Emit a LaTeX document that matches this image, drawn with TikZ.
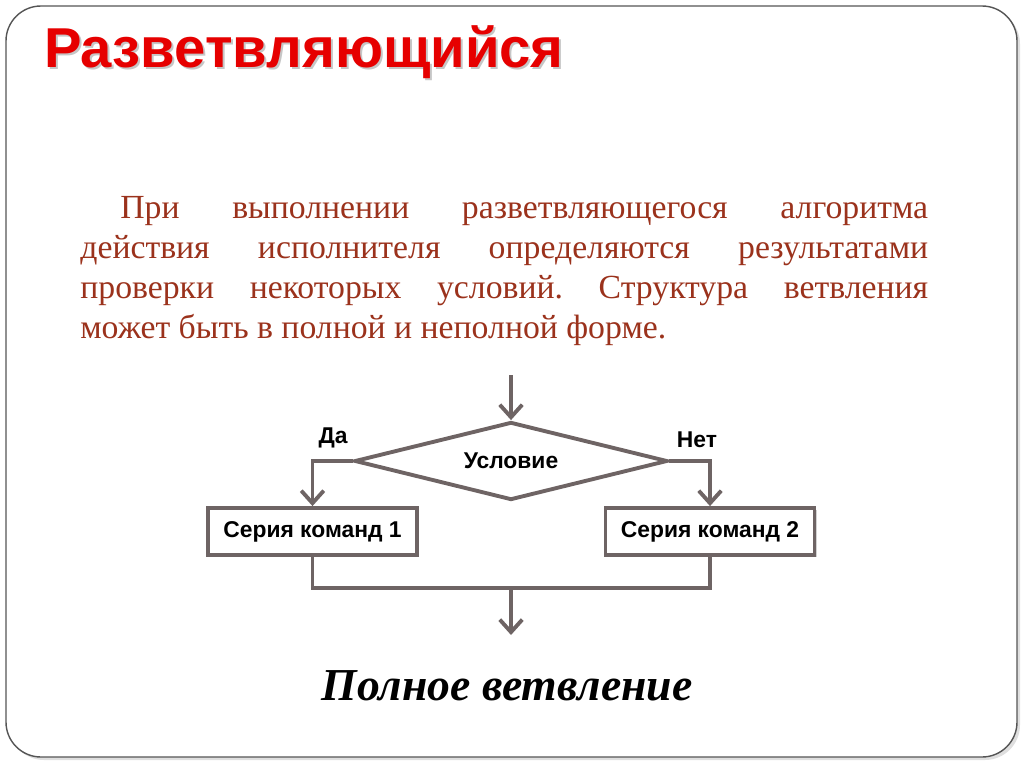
\documentclass[tikz,border=0pt]{standalone}
\usepackage{fontspec}
\setmainfont{Liberation Serif}
\newfontfamily\arialfont{Liberation Sans}
\usetikzlibrary{arrows.meta, positioning, shapes, shadows}
\definecolor{flowgray}{RGB}{110,100,100}
\definecolor{titlered}{RGB}{230,0,0}
\definecolor{textbrown}{RGB}{155,50,28}
\definecolor{framegray}{RGB}{85,85,85}

\begin{document}
\begin{tikzpicture}[
    x=0.02cm, y=-0.02cm,
    cond/.style={diamond, draw=flowgray, line width=2.2pt, fill=white, aspect=4,
        inner sep=0pt, minimum width=6.26cm, minimum height=1.56cm,
        font=\arialfont\bfseries\fontsize{13}{15}\selectfont},
    block/.style={rectangle, draw=flowgray, line width=2.2pt, fill=white,
        minimum width=4.18cm, minimum height=0.94cm, inner sep=0pt,
        drop shadow={opacity=0.35, shadow xshift=1.2pt, shadow yshift=-1.2pt},
        font=\arialfont\bfseries\fontsize{13}{15}\selectfont},
    flow/.style={draw=flowgray, line width=2.2pt, -{Straight Barb[length=2.5mm, width=4.5mm]}},
    link/.style={draw=flowgray, line width=2.2pt},
    tag/.style={inner sep=0pt, font=\arialfont\bfseries\fontsize{13}{15}\selectfont}
]

\useasboundingbox (0,0) rectangle (1024,767);

% slide frame
\fill[gray!25, rounded corners=0.7cm] (9,9) rectangle (1020,760);
\draw[framegray, line width=0.8pt, fill=white, rounded corners=0.7cm] (6,6) rectangle (1017,757);

% title
\node[anchor=base west, text=gray!45, font=\arialfont\bfseries\fontsize{32}{38}\selectfont] (titleshadow) at (40,70) {Разветвляющийся};
\node[anchor=base west, text=titlered, font=\arialfont\bfseries\fontsize{32}{38}\selectfont] (title) at (38,68) {Разветвляющийся};

% paragraph
\node[anchor=base west, text width=16.96cm, align=justify, inner sep=0pt, text=textbrown,
      font=\fontsize{19.2}{22.8}\selectfont] (para) at (80,218)
    {\frenchspacing\hspace*{0.8cm}При выполнении разветвляющегося алгоритма\linebreak
     действия исполнителя определяются результатами\linebreak
     проверки некоторых условий. Структура ветвления\linebreak
     может быть в полной и неполной форме.};

% flowchart
\coordinate (in) at (511,375);
\node[cond] (check) at (511,461) {Условие};
\node[block] (series1) at (312.5,531.5) {Серия команд 1};
\node[block] (series2) at (710,531.5) {Серия команд 2};
\coordinate (merge) at (511,588);
\coordinate (out) at (511,635);

\node[tag] (yes) at (333,438) {Да};
\node[tag] (no) at (697,440) {Нет};

\draw[flow] (in) -- (check.north);
\draw[flow] (check.west) -| (series1.north);
\draw[flow] (check.east) -| (series2.north);
\draw[link] (series1.south) |- (merge) -| (series2.south);
\draw[flow] (merge) -- (out);

% caption
\node[anchor=base, font=\bfseries\itshape\fontsize{26}{30}\selectfont] (caption) at (507,700) {Полное ветвление};

\end{tikzpicture}
\end{document}
